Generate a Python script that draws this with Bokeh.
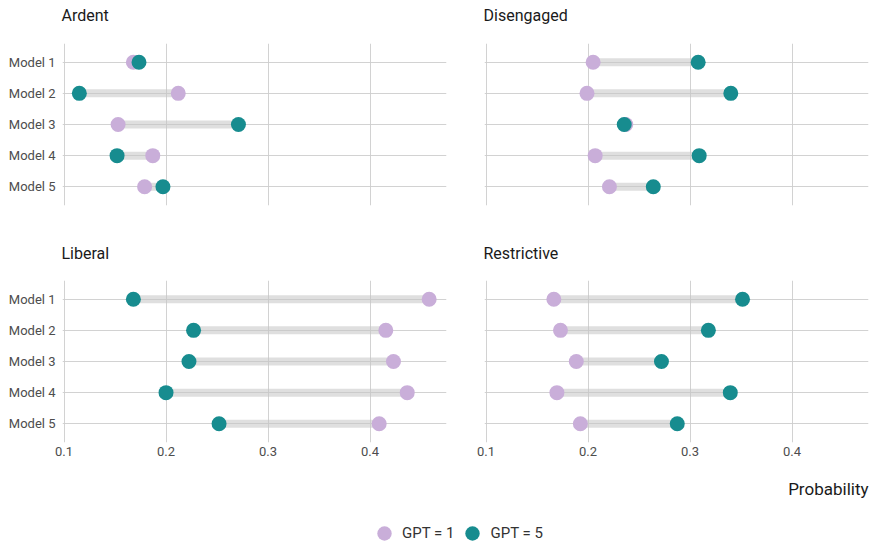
from bokeh.plotting import figure
from bokeh.models import Range1d, FactorRange, Legend, LegendItem, Label, ColumnDataSource, FixedTicker
from bokeh.layouts import column, row
from bokeh.embed import file_html
from bokeh.resources import INLINE

models = ["Model 1", "Model 2", "Model 3", "Model 4", "Model 5"]
panel_titles = ["Ardent", "Disengaged", "Liberal", "Restrictive"]
x_ticks = [0.1, 0.2, 0.3, 0.4]
series_labels = ["GPT = 1", "GPT = 5"]
axis_title = "Probability"

ardent_gpt1 = [0.168, 0.212, 0.153, 0.187, 0.179]
ardent_gpt5 = [0.1735, 0.115, 0.271, 0.152, 0.197]
disengaged_gpt1 = [0.205, 0.199, 0.237, 0.207, 0.221]
disengaged_gpt5 = [0.308, 0.340, 0.2355, 0.309, 0.264]
liberal_gpt1 = [0.458, 0.4155, 0.423, 0.4365, 0.409]
liberal_gpt5 = [0.168, 0.227, 0.2225, 0.200, 0.252]
restrictive_gpt1 = [0.1665, 0.173, 0.1885, 0.1695, 0.1925]
restrictive_gpt5 = [0.3515, 0.318, 0.272, 0.3395, 0.2875]

PURPLE = "#c9aed9"
TEAL = "#178c8f"
GRID = "#cdcdcd"
FONT = "Roboto"
FW, FH = 384, 162
LEFT_W, RIGHT_W = 62 + FW + 19, 19 + FW + 1


def blank(width, height):
    f = figure(frame_width=width, frame_height=height, x_range=Range1d(0, 1),
               y_range=Range1d(0, 1), x_axis_type=None, y_axis_type=None,
               output_backend="svg", toolbar_location=None, min_border=0,
               min_border_left=0, min_border_right=0, min_border_top=0,
               min_border_bottom=0, background_fill_color="white",
               border_fill_color="white")
    f.outline_line_color = None
    f.xgrid.visible = False
    f.ygrid.visible = False
    return f


def title_strip(left_text, right_text, height, y_center):
    a = blank(LEFT_W, height)
    a.add_layout(Label(x=61, y=y_center, x_units="screen", y_units="screen", text=left_text,
                       text_align="left", text_baseline="middle", text_font=FONT,
                       text_font_size="16px", text_color="#1a1a1a"))
    b = blank(RIGHT_W, height)
    b.add_layout(Label(x=18, y=y_center, x_units="screen", y_units="screen", text=right_text,
                       text_align="left", text_baseline="middle", text_font=FONT,
                       text_font_size="16px", text_color="#1a1a1a"))
    return row(a, b)


def make_panel(g1, g5, left, bottom):
    p = figure(
        frame_width=FW, frame_height=FH,
        x_range=Range1d(0.0985, 0.475),
        y_range=FactorRange(factors=list(reversed(models)), range_padding=0.1,
                            range_padding_units="absolute"),
        output_backend="svg", toolbar_location=None,
        min_border_left=62 if left else 19,
        min_border_right=19 if left else 1,
        min_border_top=13 if not bottom else 12,
        min_border_bottom=22 if bottom else 10,
        background_fill_color="white", border_fill_color="white",
    )
    p.outline_line_color = None

    src = ColumnDataSource(dict(model=models, g1=g1, g5=g5))
    p.segment(x0="g1", y0="model", x1="g5", y1="model", source=src,
              line_width=8, line_color="#c4c4c4", line_alpha=0.55)
    p.scatter(x="g1", y="model", source=src, size=15, fill_color=PURPLE, line_color=None)
    p.scatter(x="g5", y="model", source=src, size=15, fill_color=TEAL, line_color=None)

    p.xaxis.ticker = FixedTicker(ticks=x_ticks)
    p.xgrid.ticker = FixedTicker(ticks=x_ticks)
    for ax in p.axis:
        ax.axis_line_color = None
        ax.major_tick_line_color = None
        ax.minor_tick_line_color = None
        ax.major_label_text_font = FONT
        ax.major_label_text_font_size = "13px"
        ax.major_label_text_color = "#4d4d4d"
        ax.major_label_standoff = 7
        ax.major_tick_out = 0
        ax.major_tick_in = 0
    p.xaxis.major_label_standoff = 4
    if not bottom:
        p.xaxis.visible = False
    if not left:
        p.yaxis.visible = False
    p.xgrid.grid_line_color = GRID
    p.ygrid.grid_line_color = GRID
    p.xgrid.grid_line_width = 0.9
    p.ygrid.grid_line_width = 0.9
    return p


p1 = make_panel(ardent_gpt1, ardent_gpt5, True, False)
p2 = make_panel(disengaged_gpt1, disengaged_gpt5, False, False)
p3 = make_panel(liberal_gpt1, liberal_gpt5, True, True)
p4 = make_panel(restrictive_gpt1, restrictive_gpt5, False, True)

top_titles = title_strip(panel_titles[0], panel_titles[1], 30, 15)
bottom_titles = title_strip(panel_titles[2], panel_titles[3], 53, 15)

# footer: axis title + legend
lf = blank(869, 82)
nan = float("nan")
key_src = ColumnDataSource(dict(x=[nan], y=[nan]))
lr1 = lf.scatter(x="x", y="y", source=key_src, size=15, fill_color=PURPLE, line_color=None)
lr5 = lf.scatter(x="x", y="y", source=key_src, size=15, fill_color=TEAL, line_color=None)
legend = Legend(items=[LegendItem(label=series_labels[0], renderers=[lr1]),
                       LegendItem(label=series_labels[1], renderers=[lr5])],
                orientation="horizontal", location=(366, -5),
                glyph_width=36, glyph_height=36, label_standoff=0, spacing=0,
                padding=0, margin=0, border_line_color=None, background_fill_alpha=0,
                label_text_font=FONT, label_text_font_size="15px", label_text_color="#333333")
lf.add_layout(legend)

lf.add_layout(Label(x=868, y=58, x_units="screen", y_units="screen", text=axis_title,
                    text_align="right", text_baseline="middle", text_font=FONT,
                    text_font_size="17px", text_color="#1a1a1a"))

layout = column(top_titles, row(p1, p2), bottom_titles, row(p3, p4), lf)

open("out.html", "w").write(file_html(layout, INLINE))
